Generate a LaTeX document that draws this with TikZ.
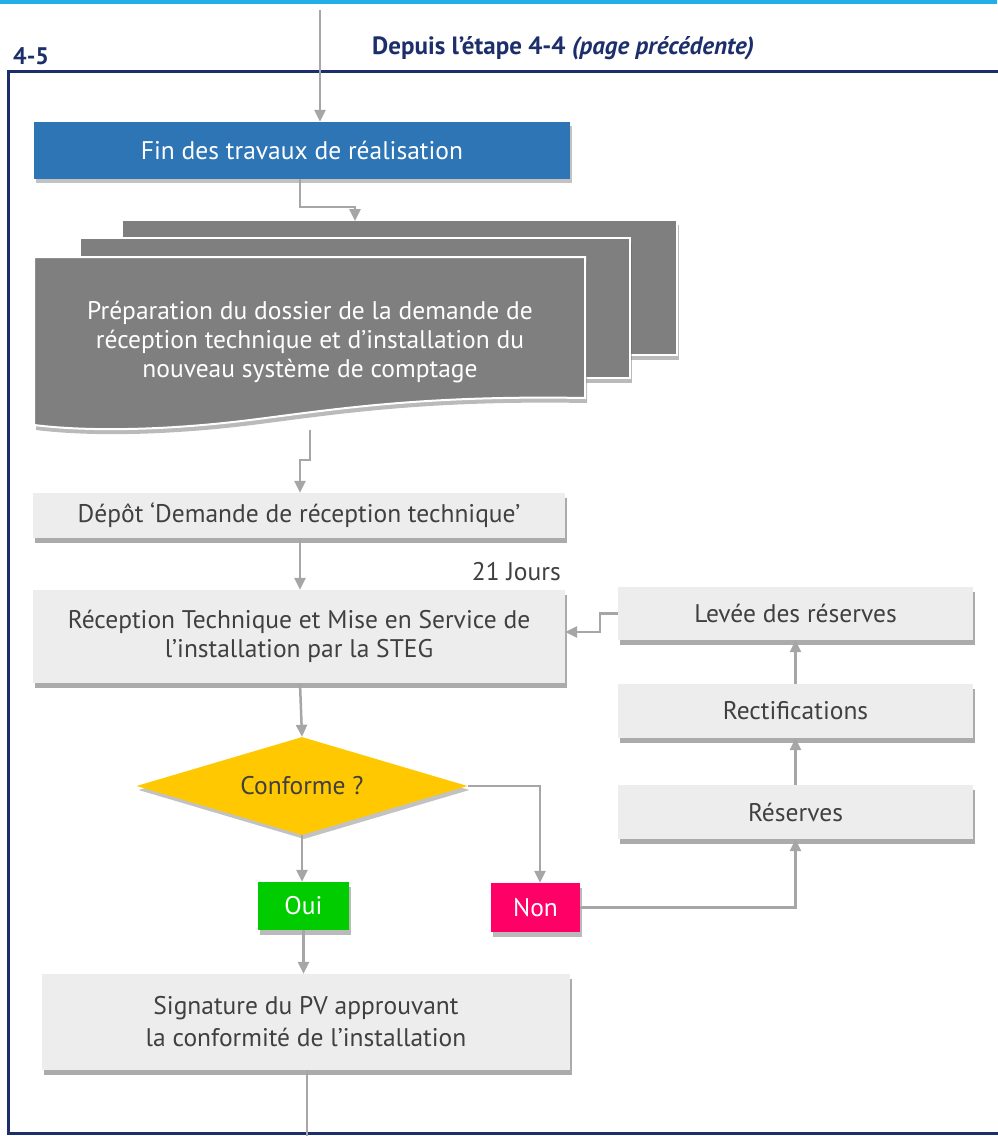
\documentclass[tikz,border=0pt]{standalone}
\usepackage{fontspec}
\setmainfont{PT Sans}
\usetikzlibrary{shapes.geometric,shadows,arrows.meta}
\definecolor{navy}{HTML}{1C2F6B}
\definecolor{conn}{HTML}{A6A6A6}
\definecolor{boxfill}{HTML}{EDEDED}
\definecolor{txt}{HTML}{404040}
\definecolor{bluebox}{HTML}{2E75B6}
\definecolor{docgrey}{HTML}{7F7F7F}
\definecolor{cyanbar}{HTML}{22AEE6}
\definecolor{ycol}{HTML}{FFC800}
\definecolor{ouigreen}{HTML}{00CC00}
\definecolor{nonpink}{HTML}{FF0066}
\begin{document}
\begin{tikzpicture}[x=1pt,y=-1pt,
  every node/.style={font=\fontsize{25.5}{29}\selectfont, text=txt, align=center},
  greybox/.style={rectangle, fill=boxfill, inner sep=0pt,
     drop shadow={opacity=0.55, shadow xshift=2pt, shadow yshift=-5pt, fill=black!60}},
  conn/.style={draw=conn, line width=2.5pt, -{Triangle[length=12pt,width=11pt]}},
  docsh/.style={fill=docgrey, draw=white, line width=2pt,
     drop shadow={opacity=0.45, shadow xshift=2pt, shadow yshift=-5pt, fill=black!60}}
]
\useasboundingbox (0,0) rectangle (997,1136);
\fill[cyanbar] (0,0) rectangle (997,4);
% frame
\draw[navy, line width=3pt] (1005,71) -- (8,71) -- (8,1133) -- (1005,1133);
\node[font=\fontsize{24}{28}\selectfont\bfseries, text=navy, anchor=west, inner sep=0pt] (lbl) at (13,56) {4-5};
\node[font=\fontsize{25}{28}\selectfont\bfseries, text=navy, anchor=west, inner sep=0pt] (depuis) at (372,48) {Depuis l’étape 4-4 \textit{(page précédente)}};
\coordinate (topin) at (320,10);

% blue box
\node[rectangle, fill=bluebox, text=white, minimum width=536pt, minimum height=57pt, inner sep=0pt,
  drop shadow={opacity=0.4, shadow xshift=2pt, shadow yshift=-4pt, fill=black!60}] (fin) at (302,150.5) {Fin des travaux de réalisation};
\draw[conn] (topin) -- (fin.north -| topin);

% document stack
\draw[docsh] (122,220) rectangle (677,355);
\draw[docsh] (80,238) rectangle (630,378);
\draw[docsh] (34,257) -- (585,257) -- (585,398)
   .. controls (420,395) and (330,410) .. (250,420)
   .. controls (170,430) and (90,432) .. (34,425) -- cycle;
\node[text=white] (prep) at (310,342) {Préparation du dossier de la demande de\\réception technique et d’installation du\\nouveau système de comptage};
\coordinate (doctop) at (355,221);
\coordinate (docbot) at (310,430);
\draw[conn] (fin.south -| 300,0) -- (300,207) -| (doctop);

\node[greybox, minimum width=532pt, minimum height=45pt] (depot) at (299,515.5) {Dépôt ‘Demande de réception technique’};
\draw[conn] (docbot) -- (310,460) -- (300,460) -- (depot.north -| 300,0);

\node[greybox, minimum width=532pt, minimum height=93pt] (recep) at (299,636.5) {Réception Technique et Mise en Service de\\l’installation par la STEG};
\draw[conn] (depot.south -| 300,0) -- (recep.north -| 300,0);
\node[anchor=east, inner sep=0pt] (jours) at (561,572) {21 Jours};

\node[diamond, fill=ycol, inner sep=0pt, minimum width=331pt, minimum height=98pt,
  drop shadow={opacity=0.4, shadow xshift=2pt, shadow yshift=-4pt, fill=black!60},
  label={center:Conforme ?}] (dia) at (302,786) {};
\draw[conn] (recep.south -| 300,0) -- (dia.north);

\node[rectangle, fill=ouigreen, text=white, minimum width=91pt, minimum height=48pt, inner sep=0pt,
  drop shadow={opacity=0.45, shadow xshift=2pt, shadow yshift=-5pt, fill=black!60}] (oui) at (303.5,906) {Oui};
\node[rectangle, fill=nonpink, text=white, minimum width=89pt, minimum height=49pt, inner sep=0pt,
  drop shadow={opacity=0.45, shadow xshift=2pt, shadow yshift=-5pt, fill=black!60}] (non) at (535.5,907.5) {Non};
\draw[conn] (dia.south) -- (oui.north -| dia.south);
\draw[conn] (dia.east) -| (540,0 |- non.north);

\node[greybox, minimum width=355pt, minimum height=54pt] (res) at (795.5,812) {Réserves};
\node[greybox, minimum width=355pt, minimum height=54pt] (rect) at (795.5,711) {Rectifications};
\node[greybox, minimum width=355pt, minimum height=53pt] (lev) at (795.5,613.5) {Levée des réserves};
\draw[conn] (non.east) -| (res.south);
\draw[conn] (res.north) -- (rect.south);
\draw[conn] (rect.north) -- (lev.south);
\draw[conn] (lev.west) -- (600,613.5) -- (600,632) -- (recep.east |- 0,632);

\node[greybox, minimum width=528pt, minimum height=96pt, font=\fontsize{25.5}{32}\selectfont] (sig) at (306,1022) {Signature du PV approuvant\\la conformité de l’installation};
\draw[conn] (oui.south) -- (sig.north -| oui.south);
\coordinate (endout) at (307,1136);
\draw[draw=conn, line width=1.2pt] (sig.south -| endout) -- (endout);
\end{tikzpicture}
\end{document}
